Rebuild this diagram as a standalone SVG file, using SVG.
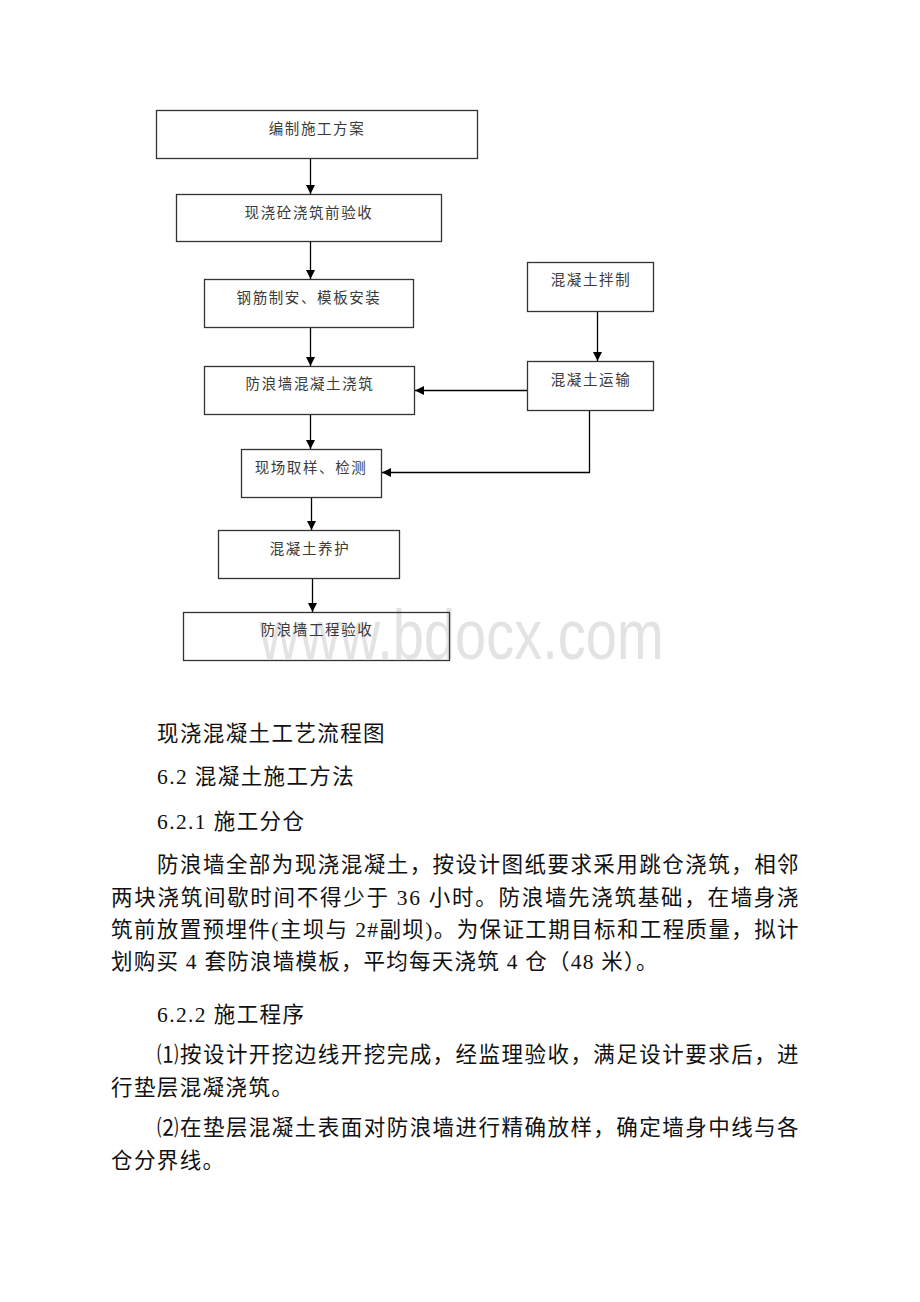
<svg xmlns="http://www.w3.org/2000/svg" width="920" height="1302" viewBox="0 0 920 1302">
<defs>
<style>
.bx{fill:none;stroke:#333;stroke-width:1.3}
.bt{font-family:"Noto Sans CJK SC","Noto Sans",sans-serif;font-size:14.5px;fill:#3a3a3a;letter-spacing:1.6px;text-anchor:middle}
.ln{fill:none;stroke:#000;stroke-width:1.3}
.tx{font-family:"Liberation Serif","Noto Sans CJK SC",serif;font-size:21.5px;fill:#111;letter-spacing:1.4px}
.wm{font-family:"Liberation Sans",Arial,sans-serif;font-size:56px;fill:#e3e3e3}
</style>
<marker id="ah" viewBox="0 0 10 10" refX="10" refY="5" markerWidth="9" markerHeight="9" markerUnits="userSpaceOnUse" orient="auto">
<path d="M0,0 L10,5 L0,10 z" fill="#000"/>
</marker>
</defs>
<rect width="920" height="1302" fill="#fff"/>
<g id="watermark"><text class="wm" transform="translate(259,659) scale(1,1.27)">www.bdocx.com</text></g>

<g id="n1"><rect class="bx" x="156.5" y="110.5" width="321" height="48"/><text class="bt" x="317" y="134">编制施工方案</text></g>
<g id="n2"><rect class="bx" x="176.5" y="194.5" width="265" height="47"/><text class="bt" x="309" y="218">现浇砼浇筑前验收</text></g>
<g id="n3"><rect class="bx" x="204.5" y="279.5" width="209" height="48"/><text class="bt" x="309" y="303">钢筋制安、模板安装</text></g>
<g id="n4"><rect class="bx" x="204.5" y="366.5" width="210" height="48"/><text class="bt" x="310" y="389">防浪墙混凝土浇筑</text></g>
<g id="n5"><rect class="bx" x="241.5" y="449.5" width="140" height="48"/><text class="bt" x="311" y="473">现场取样、检测</text></g>
<g id="n6"><rect class="bx" x="218.5" y="530.5" width="181" height="48"/><text class="bt" x="310" y="554">混凝土养护</text></g>
<g id="n7"><rect class="bx" x="183.5" y="612.5" width="266" height="48"/><text class="bt" x="317" y="635">防浪墙工程验收</text></g>
<g id="n8"><rect class="bx" x="527.5" y="262.5" width="126" height="49"/><text class="bt" x="591" y="285">混凝土拌制</text></g>
<g id="n9"><rect class="bx" x="527.5" y="361.5" width="126" height="49"/><text class="bt" x="591" y="385">混凝土运输</text></g>

<g id="connectors">
<line class="ln" x1="310.5" y1="159" x2="310.5" y2="194" marker-end="url(#ah)"/>
<line class="ln" x1="310.5" y1="242" x2="310.5" y2="279" marker-end="url(#ah)"/>
<line class="ln" x1="310.5" y1="328" x2="310.5" y2="366" marker-end="url(#ah)"/>
<line class="ln" x1="310.5" y1="415" x2="310.5" y2="449" marker-end="url(#ah)"/>
<line class="ln" x1="311.5" y1="498" x2="311.5" y2="530" marker-end="url(#ah)"/>
<line class="ln" x1="312.5" y1="579" x2="312.5" y2="612" marker-end="url(#ah)"/>
<line class="ln" x1="597.5" y1="312" x2="597.5" y2="361" marker-end="url(#ah)"/>
<line class="ln" x1="527" y1="390.5" x2="415" y2="390.5" marker-end="url(#ah)"/>
<polyline class="ln" points="589.5,411 589.5,472.5 382,472.5" marker-end="url(#ah)"/>
</g>

<g id="body-text">
<text class="tx" x="157" y="741">现浇混凝土工艺流程图</text>
<text class="tx" x="157" y="784">6.2 混凝土施工方法</text>
<text class="tx" x="157" y="829">6.2.1 施工分仓</text>
<text class="tx" x="157" y="872" textLength="643" lengthAdjust="spacing">防浪墙全部为现浇混凝土，按设计图纸要求采用跳仓浇筑，相邻</text>
<text class="tx" x="111" y="905" textLength="689" lengthAdjust="spacing">两块浇筑间歇时间不得少于 36 小时。防浪墙先浇筑基础，在墙身浇</text>
<text class="tx" x="111" y="937" textLength="689" lengthAdjust="spacing">筑前放置预埋件(主坝与 2#副坝)。为保证工期目标和工程质量，拟计</text>
<text class="tx" x="111" y="969" textLength="548" lengthAdjust="spacing">划购买 4 套防浪墙模板，平均每天浇筑 4 仓（48 米）。</text>
<text class="tx" x="157" y="1022">6.2.2 施工程序</text>
<text class="tx" x="157" y="1062" textLength="643" lengthAdjust="spacing">⑴按设计开挖边线开挖完成，经监理验收，满足设计要求后，进</text>
<text class="tx" x="111" y="1095">行垫层混凝浇筑。</text>
<text class="tx" x="157" y="1135" textLength="643" lengthAdjust="spacing">⑵在垫层混凝土表面对防浪墙进行精确放样，确定墙身中线与各</text>
<text class="tx" x="111" y="1168">仓分界线。</text>
</g>
</svg>
